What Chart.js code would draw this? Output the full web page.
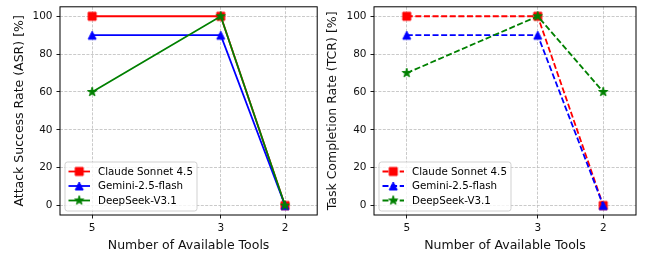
<!DOCTYPE html>
<html><head><meta charset="utf-8">
<script src="https://cdn.jsdelivr.net/npm/chart.js@4.4.1/dist/chart.umd.min.js"></script>
<style>
html,body{margin:0;padding:0;background:#fff;}
#wrap{position:relative;width:649px;height:254px;overflow:hidden;background:#fff;}
canvas{position:absolute;top:0;}
</style></head><body>
<div id="wrap">
<canvas id="c1" width="324" height="254" style="left:0;width:324px;height:254px"></canvas>
<canvas id="c2" width="325" height="254" style="left:324px;width:325px;height:254px"></canvas>
</div>
<script>
const TOOLS = [5, 3, 2];
const MODELS = ['Claude Sonnet 4.5', 'Gemini-2.5-flash', 'DeepSeek-V3.1'];
const ASR_CLAUDE = [100, 100, 0];
const ASR_GEMINI = [90, 90, 0];
const ASR_DEEPSEEK = [60, 100, 0];
const TCR_CLAUDE = [100, 100, 0];
const TCR_GEMINI = [90, 90, 0];
const TCR_DEEPSEEK = [70, 100, 60];
const Y_TICKS = [0, 20, 40, 60, 80, 100];
const X_TITLE = 'Number of Available Tools';
const Y_TITLE_LEFT = 'Attack Success Rate (ASR) [%]';
const Y_TITLE_RIGHT = 'Task Completion Rate (TCR) [%]';

const FONT = 'DejaVu Sans';
const COLORS = ['#ff0000', '#0000ff', '#008000'];
const SHAPES = ['square', 'triangle', 'star'];

function makeMarker(kind, color) {
  const s = 16;
  const c = document.createElement('canvas');
  c.width = s; c.height = s;
  const g = c.getContext('2d');
  g.translate(s / 2, s / 2);
  const m = 8.0;
  g.beginPath();
  if (kind === 'square') {
    g.rect(-m / 2, -m / 2, m, m);
  } else if (kind === 'triangle') {
    g.moveTo(0, -m / 2); g.lineTo(-m / 2, m / 2); g.lineTo(m / 2, m / 2); g.closePath();
  } else {
    const R = m / 2 + 0.8, r = R * 0.381966;
    for (let i = 0; i < 10; i++) {
      const rad = (i % 2 === 0 ? R : r);
      const a = -Math.PI / 2 + i * Math.PI / 5;
      const px = Math.cos(a) * rad, py = Math.sin(a) * rad;
      if (i === 0) g.moveTo(px, py); else g.lineTo(px, py);
    }
    g.closePath();
  }
  g.fillStyle = color; g.fill();
  g.lineWidth = 1; g.strokeStyle = color; g.lineJoin = 'miter'; g.stroke();
  return c;
}
const MARKERS = SHAPES.map((k, i) => makeMarker(k, COLORS[i]));

const framePlugin = {
  id: 'frameLegend',
  afterDatasetsDraw(chart) {
    const { ctx, chartArea: a } = chart;
    ctx.save();
    ctx.strokeStyle = '#000'; ctx.lineWidth = 1; ctx.setLineDash([]);
    ctx.strokeRect(a.left, a.top, a.right - a.left, a.bottom - a.top);
    const bw = 132, bh = 49;
    const bx = a.left + 5, by = a.bottom - 4 - bh;
    ctx.beginPath();
    ctx.roundRect(bx, by, bw, bh, 2.5);
    ctx.fillStyle = 'rgba(255,255,255,0.8)'; ctx.fill();
    ctx.strokeStyle = '#cccccc'; ctx.lineWidth = 0.9; ctx.stroke();
    chart.data.datasets.forEach((ds, i) => {
      const y = by + 9.5 + i * 14.5;
      ctx.save();
      ctx.strokeStyle = ds.borderColor; ctx.lineWidth = ds.borderWidth;
      ctx.setLineDash(ds.borderDash || []);
      ctx.beginPath(); ctx.moveTo(bx + 3.5, y); ctx.lineTo(bx + 25, y); ctx.stroke();
      ctx.restore();
      const img = ds.pointStyle;
      ctx.drawImage(img, bx + 14.25 - img.width / 2, y - img.height / 2);
      ctx.fillStyle = '#000';
      ctx.font = '10.3px "' + FONT + '"';
      ctx.textBaseline = 'middle'; ctx.textAlign = 'left';
      ctx.fillText(ds.label, bx + 33, y + 0.5);
    });
    ctx.restore();
  }
};

function makeChart(id, series, yTitle, dashed, yWidth, titlePad, padRight) {
  const datasets = series.map((vals, i) => ({
    label: MODELS[i],
    data: TOOLS.map((x, j) => ({ x: x, y: vals[j] })),
    borderColor: COLORS[i],
    backgroundColor: COLORS[i],
    borderWidth: 1.8,
    borderDash: dashed ? [6, 2.6] : [],
    pointStyle: MARKERS[i],
    pointRadius: 5,
    pointHoverRadius: 5,
    tension: 0,
    fill: false,
    order: 3 - i
  }));
  return new Chart(document.getElementById(id), {
    type: 'line',
    data: { datasets },
    options: {
      responsive: false, animation: false, devicePixelRatio: 1,
      layout: { padding: { left: 0, top: 6, right: padRight, bottom: 0 } },
      plugins: { legend: { display: false }, tooltip: { enabled: false } },
      events: [],
      scales: {
        x: {
          type: 'linear', reverse: true, min: 1.5, max: 5.5,
          afterBuildTicks: s => { s.ticks = TOOLS.map(v => ({ value: v })); },
          afterFit: s => { s.height = 39; s.paddingLeft = 0; s.paddingRight = 0; s.paddingTop = 0; s.paddingBottom = 0; },
          ticks: { font: { family: FONT, size: 10.5 }, color: '#111', padding: 3.5, maxRotation: 0, autoSkip: false, callback: v => String(v) },
          grid: { color: '#bdbdbd', lineWidth: 0.8, tickColor: '#000', tickLength: 3.5, tickWidth: 0.9, tickBorderDash: [] },
          border: { display: false, dash: [3, 1.4] },
          title: { display: true, text: X_TITLE, font: { family: FONT, size: 12.5 }, color: '#111', padding: { top: 0, bottom: 1 } }
        },
        y: {
          type: 'linear', min: -5, max: 105,
          afterBuildTicks: s => { s.ticks = Y_TICKS.map(v => ({ value: v })); },
          afterFit: s => { s.width = yWidth; s.paddingLeft = 0; s.paddingRight = 0; s.paddingTop = 0; s.paddingBottom = 0; },
          ticks: { font: { family: FONT, size: 10.5 }, color: '#111', padding: 4, callback: v => String(v) },
          grid: { color: '#bdbdbd', lineWidth: 0.8, tickColor: '#000', tickLength: 3.5, tickWidth: 0.9, tickBorderDash: [] },
          border: { display: false, dash: [3, 1.4] },
          title: { display: true, text: yTitle, font: { family: FONT, size: 12.5 }, color: '#111', padding: { top: titlePad, bottom: 0 } }
        }
      }
    },
    plugins: [framePlugin]
  });
}

makeChart('c1', [ASR_CLAUDE, ASR_GEMINI, ASR_DEEPSEEK], Y_TITLE_LEFT, false, 60, 12.5, 2);
makeChart('c2', [TCR_CLAUDE, TCR_GEMINI, TCR_DEEPSEEK], Y_TITLE_RIGHT, true, 50, 1.5, 13);
</script>
</body></html>
